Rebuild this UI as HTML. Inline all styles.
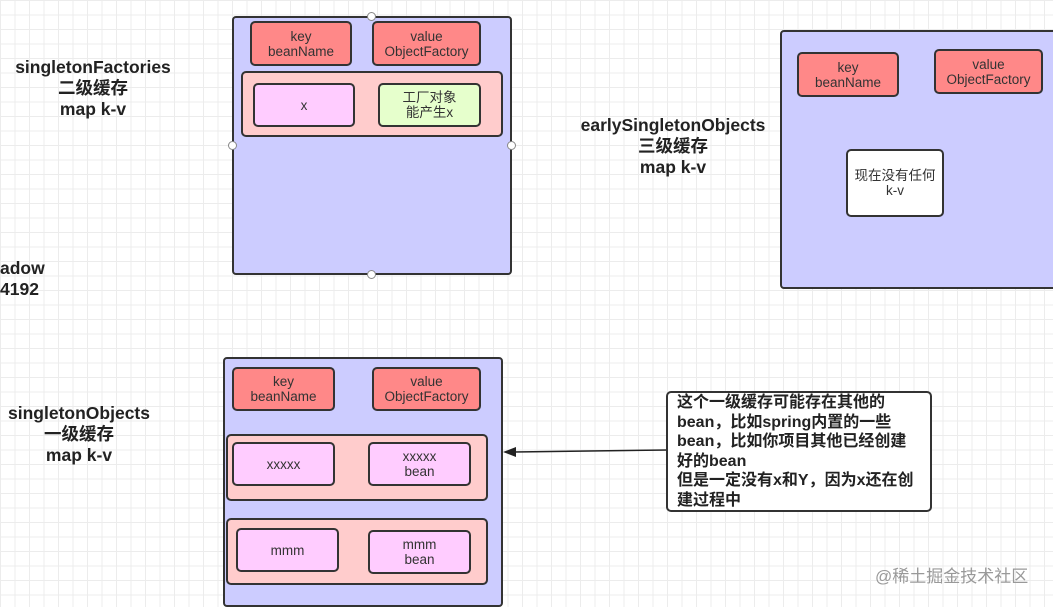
<!DOCTYPE html>
<html><head><meta charset="utf-8"><style>
body{margin:0;width:1053px;height:600px;overflow:hidden;position:relative;font-family:"Liberation Sans","Noto Sans CJK SC",sans-serif;
background-color:#fff;background-image:linear-gradient(#ececec 1px,transparent 1px),linear-gradient(90deg,#ececec 1px,transparent 1px);background-size:14.5px 14.5px;}
.b{position:absolute;box-sizing:border-box;border:2px solid #333;border-radius:5px;display:flex;align-items:center;justify-content:center;text-align:center;font-size:13.5px;line-height:15px;color:#333}
.c{background:#ccccff;border-radius:4px}
.r{background:#f88;color:#333}
.p{background:#ffccff}
.s{background:#ffcccc}
.g{background:#e6ffcc}
.t{position:absolute;font-weight:bold;font-size:17.5px;line-height:21px;text-align:center;color:#222}
.h{position:absolute;width:7px;height:7px;border:1px solid #888;border-radius:50%;background:#fff}
</style></head><body>
<div class="t" style="left:0px;top:57px;width:186px">singletonFactories<br>二级缓存<br>map k-v</div>
<div class="t" style="left:563px;top:115px;width:220px">earlySingletonObjects<br>三级缓存<br>map k-v</div>
<div class="t" style="left:0;top:258px;text-align:left">adow<br>4192</div>
<div class="t" style="left:0;top:403px;width:158px">singletonObjects<br>一级缓存<br>map k-v</div>

<div class="b c" style="left:232px;top:16px;width:280px;height:259px"></div>
<div class="b r" style="left:250px;top:21px;width:102px;height:45px">key<br>beanName</div>
<div class="b r" style="left:372px;top:21px;width:109px;height:45px">value<br>ObjectFactory</div>
<div class="b s" style="left:241px;top:71px;width:262px;height:66px"></div>
<div class="b p" style="left:253px;top:83px;width:102px;height:44px">x</div>
<div class="b g" style="left:378px;top:83px;width:103px;height:44px">工厂对象<br>能产生x</div>
<div class="h" style="left:367px;top:12px"></div><div class="h" style="left:367px;top:270px"></div>
<div class="h" style="left:228px;top:141px"></div><div class="h" style="left:507px;top:141px"></div>

<div class="b c" style="left:780px;top:30px;width:290px;height:259px"></div>
<div class="b r" style="left:797px;top:52px;width:102px;height:45px">key<br>beanName</div>
<div class="b r" style="left:934px;top:49px;width:109px;height:45px">value<br>ObjectFactory</div>
<div class="b" style="left:846px;top:149px;width:98px;height:68px;background:#fff">现在没有任何<br>k-v</div>

<div class="b c" style="left:223px;top:357px;width:280px;height:250px"></div>
<div class="b r" style="left:232px;top:367px;width:103px;height:44px">key<br>beanName</div>
<div class="b r" style="left:372px;top:367px;width:109px;height:44px">value<br>ObjectFactory</div>
<div class="b s" style="left:226px;top:434px;width:262px;height:67px"></div>
<div class="b p" style="left:232px;top:442px;width:103px;height:44px">xxxxx</div>
<div class="b p" style="left:368px;top:442px;width:103px;height:44px">xxxxx<br>bean</div>
<div class="b s" style="left:226px;top:518px;width:262px;height:67px"></div>
<div class="b p" style="left:236px;top:528px;width:103px;height:44px">mmm</div>
<div class="b p" style="left:368px;top:530px;width:103px;height:44px">mmm<br>bean</div>

<svg style="position:absolute;left:0;top:0" width="1053" height="600">
<line x1="668" y1="450" x2="514" y2="452" stroke="#222" stroke-width="1.5"/>
<polygon points="503,452 516,447 516,457" fill="#222"/>
</svg>
<div class="b" style="left:666px;top:391px;width:266px;height:121px;background:#fff;display:block;text-align:left;padding:0 0 0 9px;font-weight:bold;font-size:16px;line-height:19.5px;color:#222;white-space:nowrap;overflow:hidden">这个一级缓存可能存在其他的<br>bean，比如spring内置的一些<br>bean，比如你项目其他已经创建<br>好的bean<br>但是一定没有x和Y，因为x还在创<br>建过程中</div>
<div style="position:absolute;left:875px;top:562px;font-size:17px;color:#999">@稀土掘金技术社区</div>
</body></html>
